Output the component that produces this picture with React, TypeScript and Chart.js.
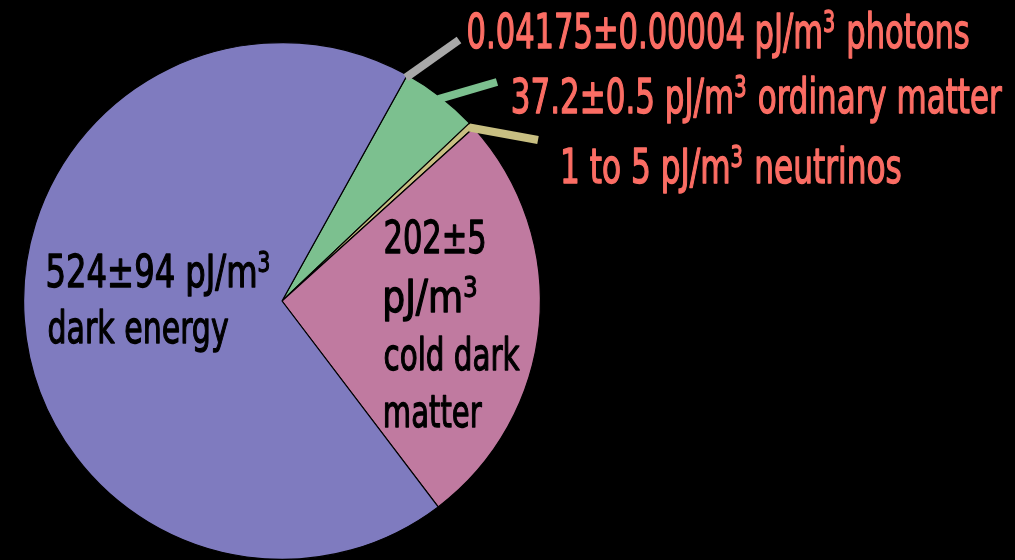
import React, { useEffect, useRef } from "react";
import { Chart, registerables } from "chart.js";

Chart.register(...registerables);

// ---- data ----
const categories = ["photons", "ordinary matter", "neutrinos", "cold dark matter", "dark energy"];
const values = [0.04175, 37.2, 3, 202, 524];
const sliceColors = ["#a8a8a8", "#7cc08f", "#c8bf82", "#c07aa0", "#7f7bbf"];

const outerLabelTexts = [
  "0.04175±0.00004 pJ/m³ photons",
  "37.2±0.5 pJ/m³ ordinary matter",
  "1 to 5 pJ/m³ neutrinos",
];
const darkEnergyLines = ["524±94 pJ/m³", "dark energy"];
const coldDarkLines = ["202±5", "pJ/m³", "cold dark", "matter"];

// ---- layout (styling / annotation positions) ----
const FONT_FAMILY = "'DejaVu Sans Condensed', 'Liberation Sans Narrow', 'Liberation Sans', sans-serif";
const SALMON = "#fb6d64";

type TextSpec = { text: string; x: number; y: number; w: number; size: number; color: string };

const outerLayout = [
  { x: 468, y: 48, w: 500 },
  { x: 513, y: 113, w: 487 },
  { x: 563, y: 183, w: 337 },
];
const darkLayout = [
  { x: 48, y: 287, w: 222 },
  { x: 49, y: 343, w: 178 },
];
const cdmLayout = [
  { x: 385, y: 253, w: 100 },
  { x: 385, y: 312, w: 92 },
  { x: 385, y: 370, w: 133 },
  { x: 385, y: 427, w: 95 },
];

// leader lines: slice index, where on slice it starts, end point
const leaders = [
  { index: 0, anchor: "start", end: [459, 40] },
  { index: 1, anchor: "mid", end: [497, 82] },
  { index: 2, anchor: "mid", end: [538, 140] },
];

function buildTexts(): TextSpec[] {
  const out: TextSpec[] = [];
  outerLabelTexts.forEach((t, i) =>
    out.push({ text: t, ...outerLayout[i], size: 48, color: SALMON })
  );
  darkEnergyLines.forEach((t, i) => out.push({ text: t, ...darkLayout[i], size: 45, color: "#000" }));
  coldDarkLines.forEach((t, i) => out.push({ text: t, ...cdmLayout[i], size: 45, color: "#000" }));
  return out;
}

function drawText(ctx: CanvasRenderingContext2D, t: TextSpec) {
  const mainFont = `${t.size}px ${FONT_FAMILY}`;
  const supSize = Math.round(t.size * 0.62);
  const supFont = `${supSize}px ${FONT_FAMILY}`;
  const parts = t.text.split("³");
  type Seg = { s: string; sup: boolean; w: number };
  const segs: Seg[] = [];
  parts.forEach((p, i) => {
    if (p) {
      ctx.font = mainFont;
      segs.push({ s: p, sup: false, w: ctx.measureText(p).width });
    }
    if (i < parts.length - 1) {
      ctx.font = supFont;
      segs.push({ s: "3", sup: true, w: ctx.measureText("3").width + t.size * 0.04 });
    }
  });
  ctx.font = mainFont;
  const firstLeft = ctx.measureText(segs[0].s).actualBoundingBoxLeft;
  const total = segs.reduce((a, s) => a + s.w, 0) + firstLeft - t.size * 0.05;
  const sx = t.w / total;
  ctx.save();
  ctx.translate(t.x, t.y);
  ctx.scale(sx, 1);
  ctx.fillStyle = t.color;
  ctx.strokeStyle = t.color;
  ctx.lineWidth = t.size * 0.028;
  ctx.lineJoin = "round";
  ctx.textAlign = "left";
  ctx.textBaseline = "alphabetic";
  let cx = firstLeft;
  segs.forEach((s) => {
    ctx.font = s.sup ? supFont : mainFont;
    const yy = s.sup ? -t.size * 0.33 : 0;
    ctx.fillText(s.s, cx, yy);
    ctx.strokeText(s.s, cx, yy);
    cx += s.w;
  });
  ctx.restore();
}

const annotationPlugin = {
  id: "annotations",
  afterDatasetsDraw(chart: any) {
    const ctx: CanvasRenderingContext2D = chart.ctx;
    const meta = chart.getDatasetMeta(0);
    leaders.forEach((l) => {
      const arc: any = meta.data[l.index];
      if (!arc) return;
      const { x, y, startAngle, endAngle, outerRadius } = arc.getProps(
        ["x", "y", "startAngle", "endAngle", "outerRadius"],
        true
      );
      const a = l.anchor === "start" ? startAngle : (startAngle + endAngle) / 2;
      const r = outerRadius - 3;
      const sx = x + r * Math.cos(a);
      const sy = y + r * Math.sin(a);
      ctx.save();
      ctx.strokeStyle = sliceColors[l.index];
      ctx.lineWidth = 8;
      ctx.lineCap = "butt";
      ctx.beginPath();
      ctx.moveTo(sx, sy);
      ctx.lineTo(l.end[0], l.end[1]);
      ctx.stroke();
      ctx.restore();
    });
    buildTexts().forEach((t) => drawText(ctx, t));
  },
};

export default function App() {
  const ref = useRef<HTMLCanvasElement | null>(null);
  useEffect(() => {
    if (!ref.current) return;
    const chart = new Chart(ref.current, {
      type: "pie",
      data: {
        labels: categories,
        datasets: [
          {
            data: values,
            backgroundColor: sliceColors,
            borderColor: "#000",
            borderWidth: 1.2,
          },
        ],
      },
      options: {
        responsive: false,
        maintainAspectRatio: false,
        animation: false,
        rotation: 29,
        layout: { padding: { left: 23, top: 42, right: 474, bottom: 0 } },
        plugins: {
          legend: { display: false },
          tooltip: { enabled: false },
        },
      },
      plugins: [annotationPlugin],
    });
    return () => chart.destroy();
  }, []);
  return (
    <div style={{ position: "fixed", left: 0, top: 0, width: 1015, height: 560, background: "#000" }}>
      <canvas ref={ref} width={1015} height={560} style={{ display: "block" }} />
    </div>
  );
}
